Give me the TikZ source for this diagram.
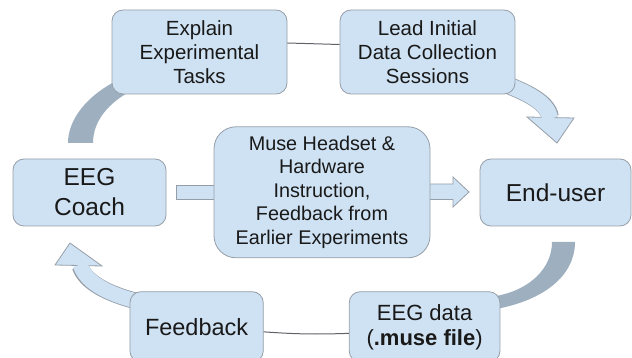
\documentclass[tikz,border=0pt]{standalone}
\usepackage{fontspec}
\setmainfont{Liberation Sans}
\definecolor{boxfill}{HTML}{CFE2F3}
\definecolor{boxline}{HTML}{959EA8}
\definecolor{bandfill}{HTML}{9EAFC0}
\definecolor{linkline}{HTML}{5F6368}
\newcommand\fsz[2]{\fontsize{#1}{#2}\selectfont}
\begin{document}
\begin{tikzpicture}[x=1pt,y=-1pt,
  box/.style={draw=boxline, fill=boxfill, line width=0.8pt, rounded corners=11pt,
    align=center, inner sep=0pt, text=black!90},
  band/.style={fill=bandfill, draw=none},
  blockarrow/.style={fill=boxfill, draw=boxline, line width=0.8pt, line join=miter},
  link/.style={draw=linkline, line width=1pt}
]
\useasboundingbox (0,0) rectangle (632,358);
\clip (0,0) rectangle (632,358);

% dark bands
\path[band] (68,143) .. controls (68,120) and (86,96) .. (118,80)
  -- (131,91) .. controls (110,102) and (93,120) .. (93,143) -- cycle;
\path[band] (575,242) .. controls (575,275) and (545,300) .. (496,309)
  -- (496,296) .. controls (530,290) and (552,268) .. (552,242) -- cycle;

% curved light arrow top right
\draw[boxline, line width=17.6pt] (505,84) .. controls (525,92) and (548,102) .. (550,117);
\draw[blockarrow] (527,117) -- (557,143) -- (574,118) -- cycle;
\draw[boxfill, line width=16pt] (505,84) .. controls (525,92) and (548,102) .. (550,118.5);

% curved light arrow bottom left
\draw[boxline, line width=16.6pt] (140,302) .. controls (115,296) and (86,285) .. (80,266);
\draw[blockarrow] (55,265) -- (70,243) -- (102,266) -- cycle;
\draw[boxfill, line width=15pt] (140,302) .. controls (115,296) and (86,285) .. (80.2,264.5);

% straight block arrows
\draw[blockarrow] (176,185) rectangle (222,199);
\draw[blockarrow] (425,184) -- (453,184) -- (453,177) -- (469,192) -- (453,207)
  -- (453,199.5) -- (425,199.5) -- cycle;

% boxes
\node[box, minimum width=175pt, minimum height=84pt, font=\fsz{20.5}{24}] (ex) at (199.5,52)
  {Explain\\Experimental\\Tasks};
\node[box, minimum width=175pt, minimum height=84pt, font=\fsz{20.5}{24}] (ld) at (427.5,52)
  {Lead Initial\\Data Collection\\Sessions};
\node[box, rounded corners=22pt, minimum width=216pt, minimum height=131pt, font=\fsz{19.8}{23.5}] (mu) at (322,192.3)
  {Muse Headset \&\\Hardware\\Instruction,\\Feedback from\\Earlier Experiments};
\node[box, minimum width=153pt, minimum height=67pt, font=\fsz{24.5}{30}] (co) at (89.5,192.5)
  {EEG\\Coach};
\node[box, minimum width=151pt, minimum height=67pt, font=\fsz{24.5}{30}] (eu) at (555.5,192.5)
  {End-user};
\node[box, minimum width=133.3pt, minimum height=70.3pt, font=\fsz{23.5}{28}] (fb) at (196.6,326.85)
  {Feedback};
\node[box, minimum width=150.7pt, minimum height=70.3pt, font=\fsz{22}{25}] (ed) at (424.6,326.85)
  {EEG data\\(\textbf{.muse file})};

% thin links
\draw[link] ([yshift=9pt]ex.east) -- ([yshift=7.5pt]ld.west);
\draw[link] ([yshift=-5pt]fb.east) to[bend right=3] ([yshift=-6.5pt]ed.west);
\end{tikzpicture}
\end{document}
